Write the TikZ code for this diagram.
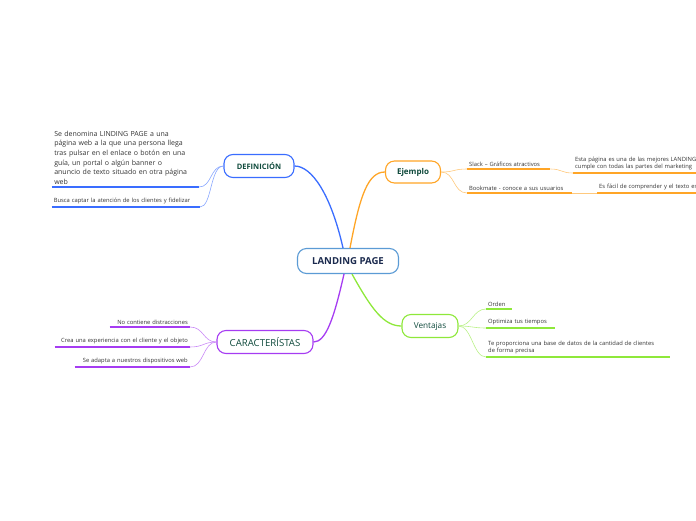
\documentclass[tikz,border=0pt]{standalone}
\usepackage{fontspec}
\setmainfont{Open Sans}
\usetikzlibrary{calc}

\definecolor{cland}{HTML}{5B9BD5}
\definecolor{cdef}{HTML}{3A6DFF}
\definecolor{cej}{HTML}{FFA526}
\definecolor{ccar}{HTML}{A63CF2}
\definecolor{cven}{HTML}{8EE83A}
\definecolor{ctxt}{HTML}{0F4A3C}
\definecolor{cnavy}{HTML}{1B2A4E}

\begin{document}
\begin{tikzpicture}[
  x=1pt, y=-1pt,
  every node/.style={font=\fontsize{5.8}{7.2}\selectfont, text=black!80},
  topic/.style={draw, line width=1.1pt, rounded corners=9pt, fill=white,
    text=ctxt, inner sep=0pt},
  leaf/.style={inner xsep=2pt, inner ysep=2.5pt},
  branch/.style={line width=1.3pt},
  twig/.style={line width=0.6pt},
  uline/.style={line width=1.4pt},
]
\useasboundingbox (0,0) rectangle (696,520);
\clip (0,0) rectangle (696,520);

%% ---- Central topic ----
\node[topic, draw=cland, text=cnavy, minimum width=101pt, minimum height=25pt,
  font=\fontsize{9.6}{11}\selectfont\bfseries] (land) at (348,261) {LANDING PAGE};

%% ---- Main topics ----
\node[topic, draw=cdef, minimum width=70pt, minimum height=23pt,
  font=\fontsize{7.5}{8}\selectfont\bfseries] (def) at (259,166) {DEFINICIÓN};
\node[topic, draw=cej, minimum width=55pt, minimum height=22pt,
  font=\fontsize{8}{9}\selectfont\bfseries] (ej) at (413,172) {Ejemplo};
\node[topic, draw=ccar, minimum width=96pt, minimum height=23pt,
  font=\fontsize{9.6}{10}\selectfont] (car) at (265,342) {CARACTERÍSTAS};
\node[topic, draw=cven, minimum width=56pt, minimum height=23pt,
  font=\fontsize{8.2}{9}\selectfont] (ven) at (430,326) {Ventajas};

\draw[branch, cdef] ([xshift=-5pt]land.north) .. controls (331,195) and (312,166) .. (def.east);
\draw[branch, cej] ([xshift=2pt]land.north) .. controls (360,195) and (368,172) .. (ej.west);
\draw[branch, ccar] ([xshift=-4pt]land.south) .. controls (334,318) and (326,342) .. (car.east);
\draw[branch, cven] ([xshift=4pt]land.south) .. controls (372,310) and (384,326) .. (ven.west);

%% ---- DEFINICIÓN ----
\node[leaf, anchor=south east, text width=142pt, inner xsep=2.5pt, align=left,
  font=\fontsize{7}{9.6}\selectfont] (d1) at (199,187)
  {Se denomina LINDING PAGE a una\\página web a la que una persona llega\\tras pulsar en el enlace o botón en una\\guía, un portal o algún banner o\\anuncio de texto situado en otra página\\web};
\node[leaf, anchor=south east, text width=144pt, align=left] (d2) at (200,207)
  {Busca captar la atención de los clientes y fidelizar};
\foreach \n in {d1,d2}{
  \draw[uline, cdef] (\n.south west) -- (\n.south east);
  \draw[twig, cdef!60] (def.west) .. controls (210,166) and (212,0 |- \n.south) .. (\n.south east);
}

%% ---- Ejemplo ----
\node[leaf, anchor=south west, text width=79pt, align=left] (e1) at (467,169)
  {Slack – Gráficos atractivos};
\node[leaf, anchor=south west, text width=101pt, align=left] (e2) at (467,193)
  {Bookmate - conoce a sus usuarios};
\foreach \n in {e1,e2}{
  \draw[uline, cej] (\n.south west) -- (\n.south east);
  \draw[twig, cej!60] (ej.east) .. controls (455,172) and (453,0 |- \n.south) .. (\n.south west);
}
\node[leaf, anchor=south west, text width=160pt, align=left] (e1a) at (573,173)
  {Esta página es una de las mejores LANDING\\cumple con todas las partes del marketing};
\node[leaf, anchor=south west, text width=160pt, align=left] (e2a) at (597,193)
  {Es fácil de comprender y el texto es};
\draw[uline, cej] (e1a.south west) -- (e1a.south east);
\draw[uline, cej] (e2a.south west) -- (e2a.south east);
\draw[twig, cej!60] (e1.south east) .. controls (562,169) and (561,173) .. (e1a.south west);
\draw[twig, cej!60] (e2.south east) -- (e2a.south west);

%% ---- CARACTERÍSTAS ----
\node[leaf, anchor=south east, text width=76pt, align=right] (c1) at (190,327)
  {No contiene distracciones};
\node[leaf, anchor=south east, text width=131pt, align=right] (c2) at (190,347)
  {Crea una experiencia con el cliente y el objeto};
\node[leaf, anchor=south east, text width=111pt, align=right] (c3) at (190,367)
  {Se adapta a nuestros dispositivos web};
\foreach \n in {c1,c2,c3}{
  \draw[uline, ccar] (\n.south west) -- (\n.south east);
  \draw[twig, ccar!60] (car.west) .. controls (203,342) and (204,0 |- \n.south) .. (\n.south east);
}

%% ---- Ventajas ----
\node[leaf, anchor=south west, text width=22pt, align=left] (v1) at (486,309)
  {Orden};
\node[leaf, anchor=south west, text width=65pt, align=left] (v2) at (486,328)
  {Optimiza tus tiempos};
\node[leaf, anchor=south west, text width=180pt, align=left] (v3) at (486,357)
  {Te proporciona una base de datos de la cantidad de clientes\\de forma precisa};
\foreach \n in {v1,v2,v3}{
  \draw[uline, cven] (\n.south west) -- (\n.south east);
  \draw[twig, cven!60] (ven.east) .. controls (472,326) and (473,0 |- \n.south) .. (\n.south west);
}

\end{tikzpicture}
\end{document}
